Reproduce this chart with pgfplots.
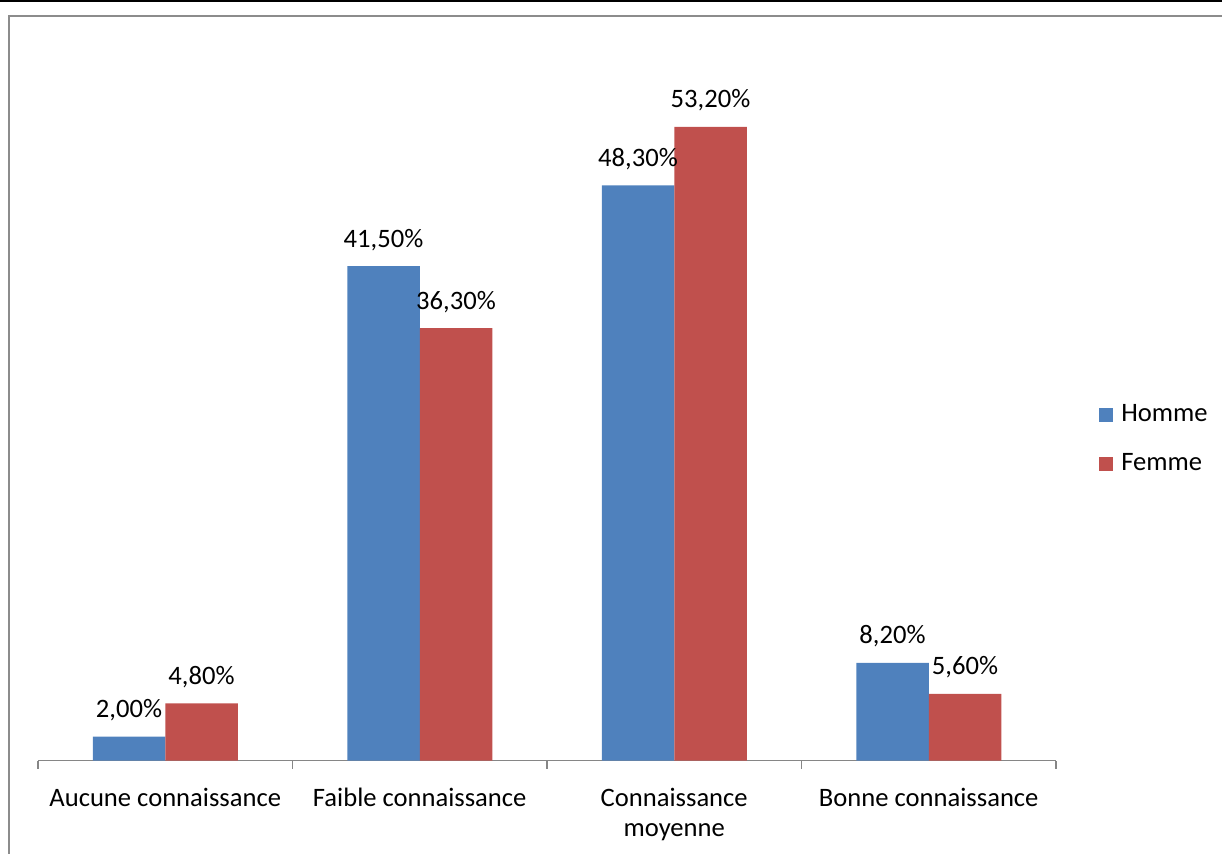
\documentclass[border=0pt]{standalone}
\usepackage{pgfplots}
\pgfplotsset{compat=1.18}
\usepackage{fontspec}
\setmainfont{Carlito}
\definecolor{hblue}{HTML}{4F81BD}
\definecolor{fred}{HTML}{C0504D}
\definecolor{axgray}{HTML}{868686}
\definecolor{framegray}{HTML}{8C8C8C}
\begin{document}
\fontsize{13.3}{15}\selectfont
\begin{tikzpicture}
\useasboundingbox (0,0) rectangle (611pt,426.5pt);
\clip (0,0) rectangle (611pt,426.5pt);
\draw[line width=1pt] (0,426pt) -- (611pt,426pt);
\draw[color=framegray, line width=1pt] (4.5pt,-10pt) -- (4.5pt,418.5pt) -- (620pt,418.5pt);
\begin{axis}[
  at={(19pt,46.25pt)}, anchor=south west,
  scale only axis, width=509pt, height=357.3pt,
  xmin=-0.5, xmax=3.5, ymin=0, ymax=60,
  axis x line*=bottom, axis y line=none,
  x axis line style={-, axgray, line width=0.75pt},
  xtick={0,1,2,3},
  xticklabels={Aucune connaissance, Faible connaissance, {Connaissance\\moyenne}, Bonne connaissance},
  major tick length=0pt,
  minor xtick={-0.5,0.5,1.5,2.5,3.5},
  minor tick length=4pt, tick align=outside,
  minor tick style={axgray, line width=0.75pt},
  xticklabel style={align=center, anchor=north, yshift=-9pt, font=\fontsize{13.3}{15}\selectfont},
  ybar=0pt, bar width=36.25pt,
  /pgf/number format/assume math mode=true,
  point meta=y,
  nodes near coords={\pgfmathprintnumber[fixed,fixed zerofill,precision=2,use comma]{\pgfplotspointmeta}\%},
  nodes near coords style={anchor=base, yshift=9.5pt, inner sep=0pt, font=\fontsize{13.3}{15}\selectfont, text=black},
  legend image code/.code={\fill[#1] (0pt,-3.5pt) rectangle (7pt,3.5pt); \path (9pt,0pt);},
  legend style={at={(1.0422,0.504)}, anchor=north west, draw=none, fill=none, inner sep=0pt,
    font=\fontsize{13.3}{15}\selectfont, row sep=10pt},
  legend cell align=left,
]
\addplot[fill=hblue, draw=none] coordinates {(0,2.0) (1,41.5) (2,48.3) (3,8.2)};
\addlegendentry{Homme}
\addplot[fill=fred, draw=none] coordinates {(0,4.8) (1,36.3) (2,53.2) (3,5.6)};
\addlegendentry{Femme}
\end{axis}
\end{tikzpicture}
\end{document}
